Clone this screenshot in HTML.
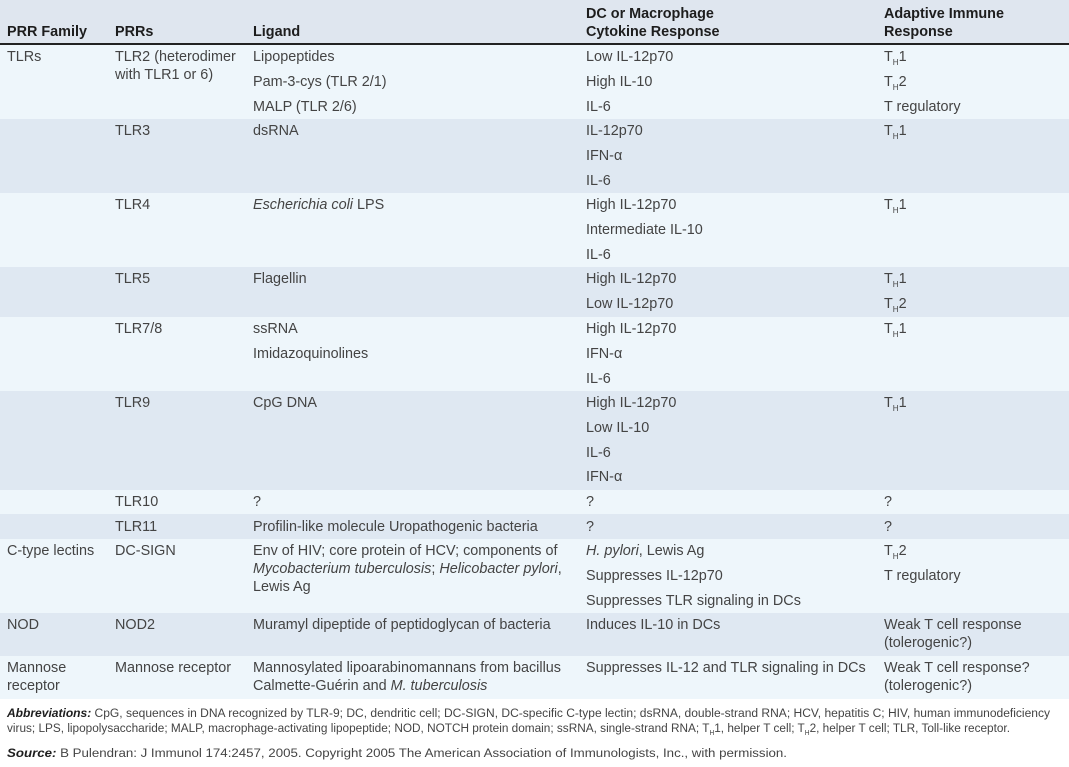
<!DOCTYPE html>
<html><head><meta charset="utf-8">
<style>
html,body{margin:0;padding:0;}
body{width:1069px;height:767px;position:relative;overflow:hidden;background:#fff;font-family:"Liberation Sans",Arial,sans-serif;}
.bg{position:absolute;left:0;width:1069px;}
.hd{background:#dfe6ef;}
.lt{background:#eef6fb;}
.dk{background:#dfe8f2;}
.t{position:absolute;white-space:nowrap;font-size:14.4px;line-height:18px;color:#444;}
.h{position:absolute;white-space:nowrap;font-size:14.4px;line-height:18px;color:#1d1d1d;font-weight:bold;}
.sb{font-size:8px;position:relative;top:4px;margin-left:0px;margin-right:0px;}
.rule{position:absolute;left:0;top:43px;width:1069px;height:2px;background:#222;}
</style></head><body>
<!-- backgrounds -->
<div class="bg hd" style="top:0;height:43px"></div>
<div class="rule"></div>
<div class="bg lt" style="top:45px;height:74px"></div>
<div class="bg dk" style="top:119px;height:74px"></div>
<div class="bg lt" style="top:193px;height:74px"></div>
<div class="bg dk" style="top:267px;height:50px"></div>
<div class="bg lt" style="top:317px;height:74px"></div>
<div class="bg dk" style="top:391px;height:99px"></div>
<div class="bg lt" style="top:490px;height:24px"></div>
<div class="bg dk" style="top:514px;height:25px"></div>
<div class="bg lt" style="top:539px;height:74px"></div>
<div class="bg dk" style="top:613px;height:43px"></div>
<div class="bg lt" style="top:656px;height:43px"></div>

<!-- header -->
<div class="h" style="left:7px;top:23px">PRR Family</div>
<div class="h" style="left:115px;top:23px">PRRs</div>
<div class="h" style="left:253px;top:23px">Ligand</div>
<div class="h" style="left:586px;top:5px">DC or Macrophage</div>
<div class="h" style="left:586px;top:23px">Cytokine Response</div>
<div class="h" style="left:884px;top:5px">Adaptive Immune</div>
<div class="h" style="left:884px;top:23px">Response</div>

<!-- TLR2 row -->
<div class="t" style="left:7px;top:48px">TLRs</div>
<div class="t" style="left:115px;top:48px">TLR2 (heterodimer</div>
<div class="t" style="left:115px;top:66px">with TLR1 or 6)</div>
<div class="t" style="left:253px;top:48px">Lipopeptides</div>
<div class="t" style="left:253px;top:73px">Pam-3-cys (TLR 2/1)</div>
<div class="t" style="left:253px;top:98px">MALP (TLR 2/6)</div>
<div class="t" style="left:586px;top:48px">Low IL-12p70</div>
<div class="t" style="left:586px;top:73px">High IL-10</div>
<div class="t" style="left:586px;top:98px">IL-6</div>
<div class="t" style="left:884px;top:48px">T<span class="sb">H</span>1</div>
<div class="t" style="left:884px;top:73px">T<span class="sb">H</span>2</div>
<div class="t" style="left:884px;top:98px">T regulatory</div>

<!-- TLR3 -->
<div class="t" style="left:115px;top:122px">TLR3</div>
<div class="t" style="left:253px;top:122px">dsRNA</div>
<div class="t" style="left:586px;top:122px">IL-12p70</div>
<div class="t" style="left:586px;top:147px">IFN-α</div>
<div class="t" style="left:586px;top:172px">IL-6</div>
<div class="t" style="left:884px;top:122px">T<span class="sb">H</span>1</div>

<!-- TLR4 -->
<div class="t" style="left:115px;top:196px">TLR4</div>
<div class="t" style="left:253px;top:196px"><i>Escherichia coli</i> LPS</div>
<div class="t" style="left:586px;top:196px">High IL-12p70</div>
<div class="t" style="left:586px;top:221px">Intermediate IL-10</div>
<div class="t" style="left:586px;top:246px">IL-6</div>
<div class="t" style="left:884px;top:196px">T<span class="sb">H</span>1</div>

<!-- TLR5 -->
<div class="t" style="left:115px;top:270px">TLR5</div>
<div class="t" style="left:253px;top:270px">Flagellin</div>
<div class="t" style="left:586px;top:270px">High IL-12p70</div>
<div class="t" style="left:586px;top:295px">Low IL-12p70</div>
<div class="t" style="left:884px;top:270px">T<span class="sb">H</span>1</div>
<div class="t" style="left:884px;top:295px">T<span class="sb">H</span>2</div>

<!-- TLR7/8 -->
<div class="t" style="left:115px;top:320px">TLR7/8</div>
<div class="t" style="left:253px;top:320px">ssRNA</div>
<div class="t" style="left:253px;top:345px">Imidazoquinolines</div>
<div class="t" style="left:586px;top:320px">High IL-12p70</div>
<div class="t" style="left:586px;top:345px">IFN-α</div>
<div class="t" style="left:586px;top:370px">IL-6</div>
<div class="t" style="left:884px;top:320px">T<span class="sb">H</span>1</div>

<!-- TLR9 -->
<div class="t" style="left:115px;top:394px">TLR9</div>
<div class="t" style="left:253px;top:394px">CpG DNA</div>
<div class="t" style="left:586px;top:394px">High IL-12p70</div>
<div class="t" style="left:586px;top:419px">Low IL-10</div>
<div class="t" style="left:586px;top:444px">IL-6</div>
<div class="t" style="left:586px;top:468px">IFN-α</div>
<div class="t" style="left:884px;top:394px">T<span class="sb">H</span>1</div>

<!-- TLR10 -->
<div class="t" style="left:115px;top:493px">TLR10</div>
<div class="t" style="left:253px;top:493px">?</div>
<div class="t" style="left:586px;top:493px">?</div>
<div class="t" style="left:884px;top:493px">?</div>

<!-- TLR11 -->
<div class="t" style="left:115px;top:518px">TLR11</div>
<div class="t" style="left:253px;top:518px">Profilin-like molecule Uropathogenic bacteria</div>
<div class="t" style="left:586px;top:518px">?</div>
<div class="t" style="left:884px;top:518px">?</div>

<!-- C-type lectins -->
<div class="t" style="left:7px;top:542px">C-type lectins</div>
<div class="t" style="left:115px;top:542px">DC-SIGN</div>
<div class="t" style="left:253px;top:542px">Env of HIV; core protein of HCV; components of</div>
<div class="t" style="left:253px;top:560px"><i>Mycobacterium tuberculosis</i>; <i>Helicobacter pylori</i>,</div>
<div class="t" style="left:253px;top:578px">Lewis Ag</div>
<div class="t" style="left:586px;top:542px"><i>H. pylori</i>, Lewis Ag</div>
<div class="t" style="left:586px;top:567px">Suppresses IL-12p70</div>
<div class="t" style="left:586px;top:592px">Suppresses TLR signaling in DCs</div>
<div class="t" style="left:884px;top:542px">T<span class="sb">H</span>2</div>
<div class="t" style="left:884px;top:567px">T regulatory</div>

<!-- NOD -->
<div class="t" style="left:7px;top:616px">NOD</div>
<div class="t" style="left:115px;top:616px">NOD2</div>
<div class="t" style="left:253px;top:616px">Muramyl dipeptide of peptidoglycan of bacteria</div>
<div class="t" style="left:586px;top:616px">Induces IL-10 in DCs</div>
<div class="t" style="left:884px;top:616px">Weak T cell response</div>
<div class="t" style="left:884px;top:634px">(tolerogenic?)</div>

<!-- Mannose -->
<div class="t" style="left:7px;top:659px">Mannose</div>
<div class="t" style="left:7px;top:677px">receptor</div>
<div class="t" style="left:115px;top:659px">Mannose receptor</div>
<div class="t" style="left:253px;top:659px">Mannosylated lipoarabinomannans from bacillus</div>
<div class="t" style="left:253px;top:677px">Calmette-Guérin and <i>M. tuberculosis</i></div>
<div class="t" style="left:586px;top:659px">Suppresses IL-12 and TLR signaling in DCs</div>
<div class="t" style="left:884px;top:659px">Weak T cell response?</div>
<div class="t" style="left:884px;top:677px">(tolerogenic?)</div>

<!-- footer -->
<svg style="position:absolute;left:0;top:699px" width="1069" height="68" viewBox="0 699 1069 68" font-family="Liberation Sans, Arial, sans-serif" font-size="12.4">
<text x="7" y="717" fill="#444" textLength="1043" lengthAdjust="spacingAndGlyphs"><tspan font-weight="bold" font-style="italic" fill="#1d1d1d">Abbreviations:</tspan> CpG, sequences in DNA recognized by TLR-9; DC, dendritic cell; DC-SIGN, DC-specific C-type lectin; dsRNA, double-strand RNA; HCV, hepatitis C; HIV, human immunodeficiency</text>
<text x="7" y="732" fill="#444" textLength="1003" lengthAdjust="spacingAndGlyphs">virus; LPS, lipopolysaccharide; MALP, macrophage-activating lipopeptide; NOD, NOTCH protein domain; ssRNA, single-strand RNA; T<tspan font-size="7" dy="3">H</tspan><tspan dy="-3">1, helper T cell; T</tspan><tspan font-size="7" dy="3">H</tspan><tspan dy="-3">2, helper T cell; TLR, Toll-like receptor.</tspan></text>
<text x="7" y="757" fill="#444" textLength="780" lengthAdjust="spacingAndGlyphs"><tspan font-weight="bold" font-style="italic" fill="#1d1d1d">Source:</tspan> B Pulendran: J Immunol 174:2457, 2005. Copyright 2005 The American Association of Immunologists, Inc., with permission.</text>
</svg>
</body></html>
